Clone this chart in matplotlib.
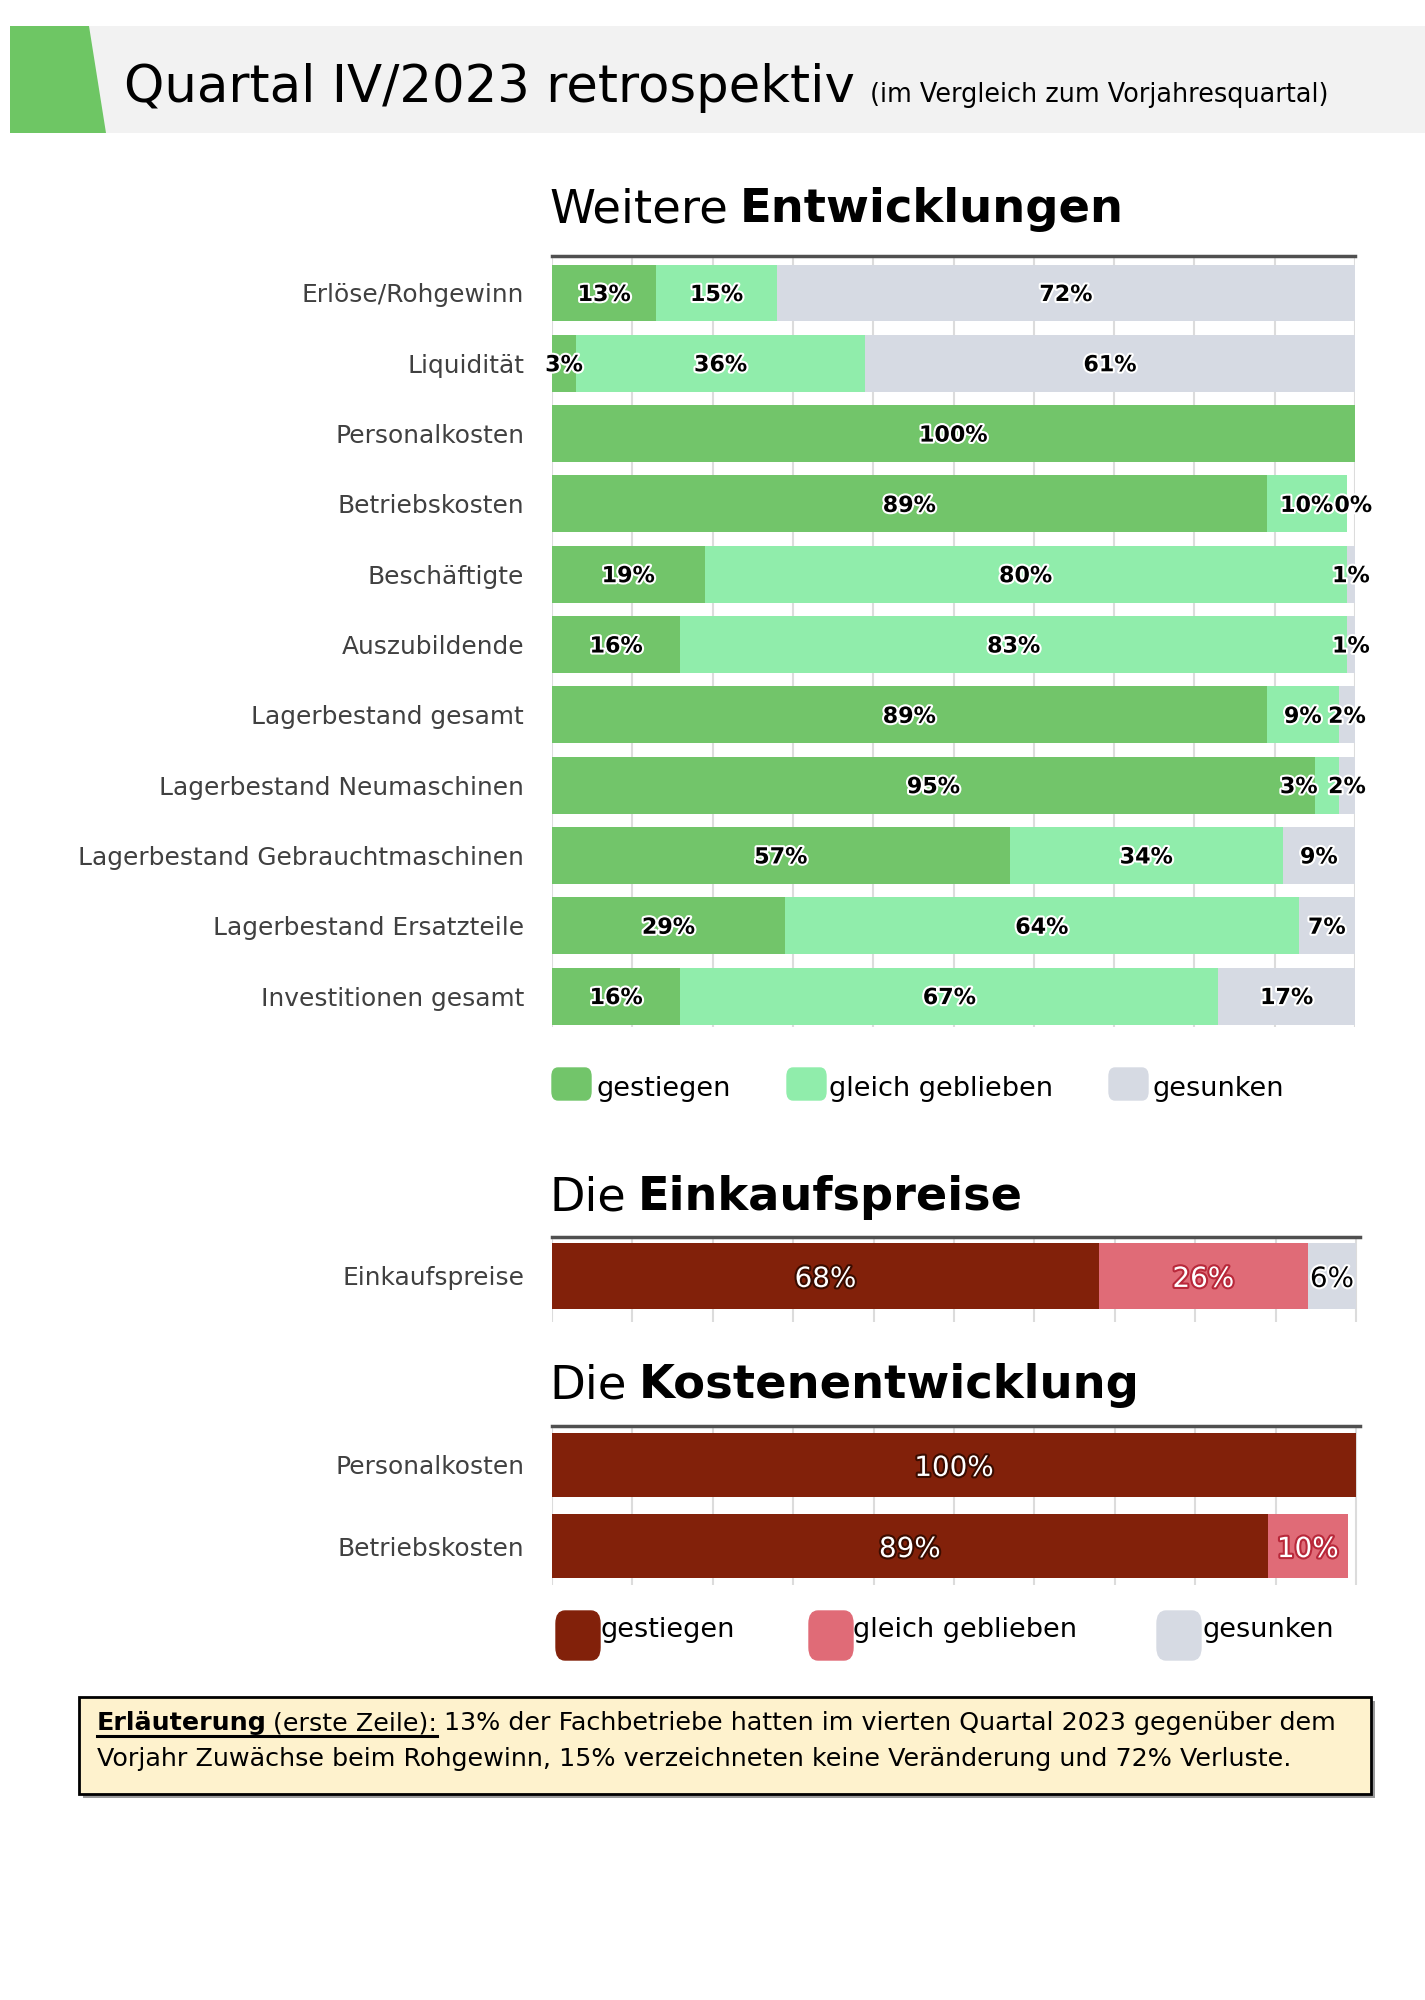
import matplotlib
matplotlib.use('Agg')
import matplotlib.pyplot as plt
import matplotlib.patheffects as pe
from matplotlib.patches import Polygon, Rectangle, FancyBboxPatch
from matplotlib.lines import Line2D

plt.rcParams['font.family'] = ['DejaVu Sans']

W, H = 1425, 2000

# --- Daten ---
kategorien = ["Erlöse/Rohgewinn", "Liquidität", "Personalkosten", "Betriebskosten",
              "Beschäftigte", "Auszubildende", "Lagerbestand gesamt",
              "Lagerbestand Neumaschinen", "Lagerbestand Gebrauchtmaschinen",
              "Lagerbestand Ersatzteile", "Investitionen gesamt"]
gestiegen = [13, 3, 100, 89, 19, 16, 89, 95, 57, 29, 16]
gleich = [15, 36, 0, 10, 80, 83, 9, 3, 34, 64, 67]
gesunken = [72, 61, 0, 0, 1, 1, 2, 2, 9, 7, 17]

ek_kategorien = ["Einkaufspreise"]
ek_gestiegen = [68]
ek_gleich = [26]
ek_gesunken = [6]

ko_kategorien = ["Personalkosten", "Betriebskosten"]
ko_gestiegen = [100, 89]
ko_gleich = [0, 10]
ko_gesunken = [0, 0]

legende = ["gestiegen", "gleich geblieben", "gesunken"]

# Nullwerte, die trotzdem beschriftet sind, und verschobene Beschriftungen
null_zeigen = {(3, 2)}
verschieben = {(7, 1): -3.5, (3, 2): 0.8}

gruen = ['#72C56A', '#90EDAB', '#D6DAE3']
rot = ['#82210A', '#E06B77', '#D6DAE3']

fig = plt.figure(figsize=(W / 100, H / 100), dpi=100)
fig.patch.set_facecolor('white')


def fx(x):
    return x / W


def fy(y):
    return 1 - y / H


def achse(x0, x1, y0, y1):
    return fig.add_axes([fx(x0), fy(y1), (x1 - x0) / W, (y1 - y0) / H])


def stil(ax, kat, ylim, xmax=100):
    ax.set_xlim(0, xmax)
    ax.set_ylim(ylim)
    ax.set_xticks(range(0, 101, 10))
    ax.set_yticks(range(len(kat)), kat)
    ax.grid(axis='x', color='#dcdcdc', lw=1.5, zorder=0)
    ax.set_axisbelow(True)
    ax.tick_params(length=0, labelbottom=False, pad=20, labelsize=17.9, labelcolor='#404040')
    for s in ['left', 'right', 'bottom']:
        ax.spines[s].set_visible(False)
    ax.spines['top'].set_color('#505050')
    ax.spines['top'].set_linewidth(2.5)
    ax.set_facecolor('none')


def balken(ax, reihen, farben, hoehe, txtfarben, randfarben, size, weight):
    n = len(reihen[0])
    links = [0] * n
    for j, (werte, farbe) in enumerate(zip(reihen, farben)):
        ax.barh(range(n), werte, left=links, height=hoehe, color=farbe, zorder=2)
        for i, v in enumerate(werte):
            if v > 0 or (i, j) in null_zeigen and weight == 'bold':
                xm = links[i] + v / 2 + (verschieben.get((i, j), 0) if weight == 'bold' else 0)
                ax.text(xm, i, f"{v}%", ha='center', va='center_baseline', fontsize=size,
                        fontweight=weight, color=txtfarben[j], zorder=5,
                        path_effects=[pe.withStroke(linewidth=3, foreground=randfarben[j])])
        links = [l + w for l, w in zip(links, werte)]


def mehrteilig(x, y, teile, size, farbe='black'):
    r = fig.canvas.get_renderer()
    boxen = []
    for txt, w in teile:
        t = fig.text(fx(x), fy(y), txt, fontsize=size, fontweight=w, va='center',
                     ha='left', color=farbe)
        bb = t.get_window_extent(renderer=r)
        boxen.append(bb)
        x = bb.x1 + size * 0.36
    return boxen


def leg(px, py, pw, ph, tx, ty, farben, size, rund):
    for x, t, f in zip(px, tx, farben):
        fig.patches.append(FancyBboxPatch((fx(x), fy(py + ph)), pw / W, ph / H,
                                          boxstyle=f"round,pad=0,rounding_size={rund / W}",
                                          transform=fig.transFigure, facecolor=f,
                                          edgecolor=f, lw=1))
    for x, text in zip(tx, legende):
        fig.text(fx(x), fy(ty), text, fontsize=size, va='center', ha='left', color='black')


# --- Kopfzeile ---
fig.patches.append(Rectangle((fx(10), fy(133)), (W - 10) / W, 107 / H,
                             transform=fig.transFigure, facecolor='#F2F2F2', edgecolor='none'))
fig.patches.append(Polygon([(fx(10), fy(26)), (fx(89), fy(26)), (fx(106), fy(133)), (fx(10), fy(133))],
                           closed=True, transform=fig.transFigure, facecolor='#6EC664',
                           edgecolor='none'))
fig.text(fx(124), fy(102), "Quartal IV/2023 retrospektiv", fontsize=37, va='baseline', ha='left')
fig.text(fx(870), fy(102), "(im Vergleich zum Vorjahresquartal)", fontsize=18.4, va='baseline', ha='left')

# --- Weitere Entwicklungen ---
mehrteilig(549, 210, [("Weitere", 'normal'), ("Entwicklungen", 'bold')], 33.5)
ax1 = achse(552, 1355, 256, 1027)
balken(ax1, [gestiegen, gleich, gesunken], gruen, 0.81, ['black'] * 3, ['white'] * 3, 16, 'bold')
stil(ax1, kategorien, (10.44, -0.526))
leg([552, 787, 1109], 1068, 39, 32, [596, 829, 1152], 1089, gruen, 19.5, 6)

# --- Einkaufspreise ---
mehrteilig(549, 1198, [("Die", 'normal'), ("Einkaufspreise", 'bold')], 33.3)
ax2 = achse(552, 1360, 1237, 1322)
balken(ax2, [ek_gestiegen, ek_gleich, ek_gesunken], rot, 0.8, ['white', 'white', 'black'],
       ['#3a0c00', '#b8283a', 'white'], 20, 'normal')
stil(ax2, ek_kategorien, (0.56, -0.473), 100.5)

# --- Kostenentwicklung ---
mehrteilig(549, 1386, [("Die", 'normal'), ("Kostenentwicklung", 'bold')], 33.5)
ax3 = achse(552, 1360, 1426, 1585)
balken(ax3, [ko_gestiegen, ko_gleich, ko_gesunken], rot, 0.78, ['white', 'white', 'black'],
       ['#3a0c00', '#b8283a', 'white'], 20, 'normal')
stil(ax3, ko_kategorien, (1.48, -0.48), 100.5)
leg([556, 809, 1157], 1611, 44, 49, [601, 853, 1203], 1630, rot, 19.5, 9)

# --- Erläuterung ---
fig.patches.append(Rectangle((fx(83), fy(1798)), 1292 / W, 97 / H, transform=fig.transFigure,
                             facecolor='#9a9a9a', edgecolor='none'))
fig.patches.append(Rectangle((fx(79), fy(1794)), 1292 / W, 97 / H, transform=fig.transFigure,
                             facecolor='#FEF2CD', edgecolor='black', lw=2))
b = mehrteilig(97, 1723, [("Erläuterung", 'bold'), ("(erste Zeile):", 'normal'),
                         ("13% der Fachbetriebe hatten im vierten Quartal 2023 gegenüber dem", 'normal')], 18.3)
fig.lines.append(Line2D([b[0].x0 / W, b[1].x1 / W], [b[0].y0 / H - 0.0003] * 2,
                        transform=fig.transFigure, color='black', lw=2.2))
fig.text(fx(97), fy(1759), "Vorjahr Zuwächse beim Rohgewinn, 15% verzeichneten keine Veränderung und 72% Verluste.",
         fontsize=18.3, va='center', ha='left')

plt.savefig('out.png', dpi=100)
